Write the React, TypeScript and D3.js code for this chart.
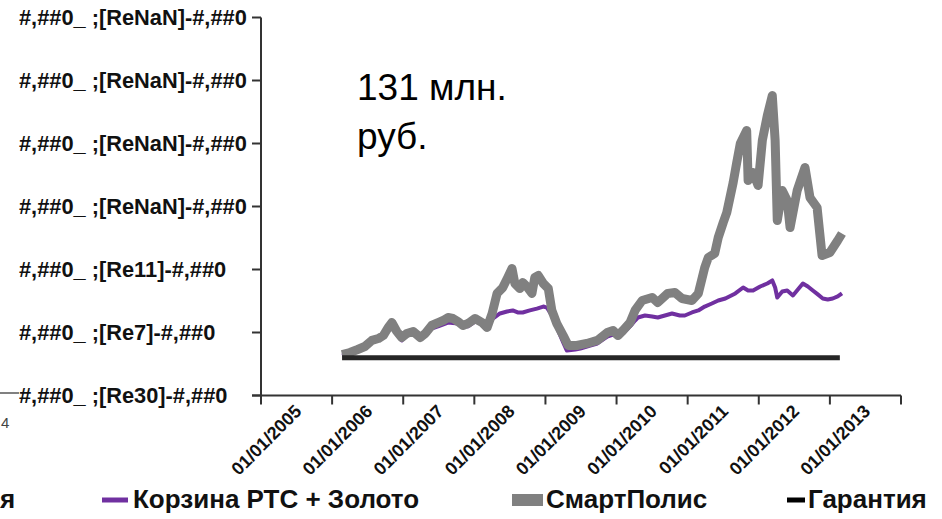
import React from "react";
import * as d3 from "d3";

const yearLabels = [2005, 2006, 2007, 2008, 2009, 2010, 2011, 2012, 2013];
const yTickValues = [70, 120, 170, 220, 270, 320, 370];
const yTickLabels = [
  "#,##0_ ;[Re30]-#,##0",
  "#,##0_ ;[Re7]-#,##0",
  "#,##0_ ;[Re11]-#,##0",
  "#,##0_ ;[ReNaN]-#,##0",
  "#,##0_ ;[ReNaN]-#,##0",
  "#,##0_ ;[ReNaN]-#,##0",
  "#,##0_ ;[ReNaN]-#,##0",
];

const smartYears = [
  2005.64, 2005.75, 2005.86, 2005.96, 2006.06, 2006.15, 2006.22, 2006.29, 2006.34, 2006.41,
  2006.48, 2006.55, 2006.64, 2006.74, 2006.81, 2006.9, 2006.99, 2007.06, 2007.13, 2007.2,
  2007.27, 2007.34, 2007.41, 2007.51, 2007.61, 2007.68, 2007.75, 2007.82, 2007.9, 2007.97,
  2008.03, 2008.07, 2008.14, 2008.18, 2008.25, 2008.31, 2008.35, 2008.4, 2008.47, 2008.54,
  2008.59, 2008.66, 2008.75, 2008.82, 2008.94, 2009.08, 2009.23, 2009.37, 2009.45, 2009.52,
  2009.59, 2009.69, 2009.76, 2009.86, 2010.0, 2010.08, 2010.22, 2010.32, 2010.42, 2010.56,
  2010.65, 2010.74, 2010.79, 2010.88, 2010.93, 2011.0, 2011.05, 2011.14, 2011.19, 2011.24,
  2011.33, 2011.35, 2011.42, 2011.49, 2011.55, 2011.62, 2011.69, 2011.73, 2011.76, 2011.83,
  2011.9, 2011.94, 2012.04, 2012.15, 2012.22, 2012.32, 2012.39, 2012.5, 2012.61, 2012.67,
];
const smartValues = [
  102.5, 104.1, 106.5, 108.9, 113.7, 115.2, 117.6, 124.0, 127.9, 120.8,
  116.0, 119.2, 120.8, 116.0, 119.2, 125.6, 127.9, 129.5, 131.9, 131.1,
  128.7, 125.6, 127.1, 131.1, 127.9, 124.0, 135.1, 151.0, 155.7, 163.7,
  170.8, 158.9, 154.9, 159.7, 155.7, 151.0, 163.7, 165.2, 158.9, 154.9,
  137.5, 127.1, 117.6, 109.7, 109.7, 111.3, 113.7, 120.0, 121.6, 117.6,
  121.6, 127.9, 137.5, 145.4, 147.8, 143.8, 151.0, 151.7, 147.0, 145.4,
  151.0, 171.6, 179.5, 182.7, 195.4, 207.3, 215.2, 239.0, 254.9, 270.0,
  280.3, 240.6, 247.0, 236.7, 272.4, 292.2, 308.1, 272.4, 208.9, 232.7,
  224.8, 203.3, 232.7, 251.0, 227.1, 219.2, 181.1, 183.5, 193.0, 198.6,
];

const basketYears = [
  2005.64, 2005.78, 2005.92, 2006.06, 2006.2, 2006.29, 2006.34, 2006.41, 2006.48, 2006.55,
  2006.64, 2006.74, 2006.81, 2006.9, 2006.99, 2007.13, 2007.27, 2007.41, 2007.51, 2007.61,
  2007.68, 2007.76, 2007.86, 2007.96, 2008.04, 2008.11, 2008.18, 2008.28, 2008.38, 2008.47,
  2008.52, 2008.59, 2008.66, 2008.75, 2008.8, 2008.92, 2008.99, 2009.13, 2009.23, 2009.37,
  2009.45, 2009.52, 2009.59, 2009.69, 2009.76, 2009.8, 2009.9, 2010.0, 2010.08, 2010.18,
  2010.28, 2010.39, 2010.46, 2010.56, 2010.65, 2010.74, 2010.84, 2010.93, 2011.03, 2011.17,
  2011.28, 2011.35, 2011.42, 2011.52, 2011.62, 2011.69, 2011.73, 2011.76, 2011.83, 2011.9,
  2011.98, 2012.05, 2012.12, 2012.19, 2012.26, 2012.33, 2012.4, 2012.47, 2012.54, 2012.61,
  2012.67,
];
const basketValues = [
  101.7, 104.1, 106.5, 112.1, 115.2, 121.6, 124.8, 118.4, 113.7, 117.6,
  119.2, 115.2, 117.6, 123.2, 124.8, 127.9, 127.1, 124.8, 128.7, 127.1,
  125.6, 131.1, 135.1, 136.7, 137.5, 135.9, 135.9, 137.5, 139.0, 140.6,
  139.8, 133.5, 124.0, 112.1, 105.7, 106.5, 107.3, 109.7, 111.3, 116.8,
  118.4, 116.0, 119.2, 124.8, 129.5, 131.9, 133.5, 132.7, 131.9, 133.5,
  135.1, 133.5, 133.5, 135.9, 137.5, 140.6, 143.0, 145.4, 147.0, 151.0,
  155.7, 153.3, 153.3, 156.5, 158.9, 161.3, 155.7, 147.8, 152.5, 153.3,
  149.4, 154.1, 158.9, 156.5, 153.3, 150.2, 147.0, 146.2, 147.0, 148.6,
  151.0,
];

const guaranteeYears = [2005.64, 2012.64];
const guaranteeValues = [100, 100];

const FONT = "'Liberation Sans', Arial, sans-serif";

export default function App() {
  const x = d3.scaleLinear().domain([2004.5, 2013.5]).range([261, 901]);
  const y = d3.scaleLinear().domain([70, 370]).range([395.5, 17.5]);
  const tickYears = d3.range(2004.5, 2013.51, 1);

  const line = d3
    .line<[number, number]>()
    .x((d) => x(d[0]))
    .y((d) => y(d[1]));

  const smart = smartYears.map((t, i) => [t, smartValues[i]] as [number, number]);
  const basket = basketYears.map((t, i) => [t, basketValues[i]] as [number, number]);
  const guarantee = guaranteeYears.map((t, i) => [t, guaranteeValues[i]] as [number, number]);

  const axisColor = "#333333";
  const axisBottom = y(70);

  return (
    <svg
      width={942}
      height={519}
      style={{ position: "absolute", left: 0, top: 0, background: "#fff" }}
      fontFamily={FONT}
    >
      <rect x={0} y={0} width={942} height={519} fill="#fff" />
      {/* neighbouring chart remnants */}
      <line x1={0} x2={19} y1={393} y2={393} stroke="#808080" strokeWidth={2} />
      <text x={1} y={428} fontSize={15} fill="#444">4</text>

      {/* y axis */}
      <line x1={261} x2={261} y1={y(370)} y2={axisBottom} stroke={axisColor} strokeWidth={2} />
      {yTickValues.map((v, i) => (
        <g key={"yt" + i}>
          <line x1={252} x2={261} y1={y(v)} y2={y(v)} stroke={axisColor} strokeWidth={2} />
          <text
            x={19}
            y={y(v)}
            textAnchor="start"
            dominantBaseline="central"
            fontSize={21.8}
            fontWeight="bold"
            fill="#111"
          >
            {yTickLabels[i]}
          </text>
        </g>
      ))}

      {/* x axis */}
      <line x1={252} x2={x(2013.5)} y1={axisBottom} y2={axisBottom} stroke={axisColor} strokeWidth={2} />
      {tickYears.map((t, i) => (
        <line key={"xt" + i} x1={x(t)} x2={x(t)} y1={axisBottom} y2={axisBottom + 9} stroke={axisColor} strokeWidth={2} />
      ))}
      {yearLabels.map((yr) => (
        <text
          key={"xl" + yr}
          transform={`translate(${x(yr) + 6},${axisBottom + 17}) rotate(-45)`}
          textAnchor="end"
          fontSize={18}
          fontWeight="bold"
          fill="#111"
        >
          {`01/01/${yr}`}
        </text>
      ))}

      {/* series */}
      <path d={line(basket) || ""} fill="none" stroke="#7030a0" strokeWidth={4} strokeLinejoin="round" />
      <path d={line(smart) || ""} fill="none" stroke="#808080" strokeWidth={9} strokeLinejoin="round" />
      <path d={line(guarantee) || ""} fill="none" stroke="#262626" strokeWidth={5} />

      {/* annotation */}
      <text x={357} y={100} fontSize={37} fill="#000">131 млн.</text>
      <text x={357} y={149} fontSize={37} fill="#000">руб.</text>

      {/* legend */}
      <text x={0} y={508} fontSize={26} fontWeight="bold" fill="#111">я</text>
      <line x1={102} x2={128} y1={500} y2={500} stroke="#7030a0" strokeWidth={5} />
      <text x={133} y={508} fontSize={26} fontWeight="bold" fill="#111">Корзина РТС + Золото</text>
      <rect x={512} y={494} width={31} height={12} fill="#808080" />
      <text x={546} y={508} fontSize={26} fontWeight="bold" fill="#111">СмартПолис</text>
      <line x1={787} x2={805} y1={500} y2={500} stroke="#000" strokeWidth={5} />
      <text x={808} y={508} fontSize={26} fontWeight="bold" fill="#111">Гарантия</text>
    </svg>
  );
}
